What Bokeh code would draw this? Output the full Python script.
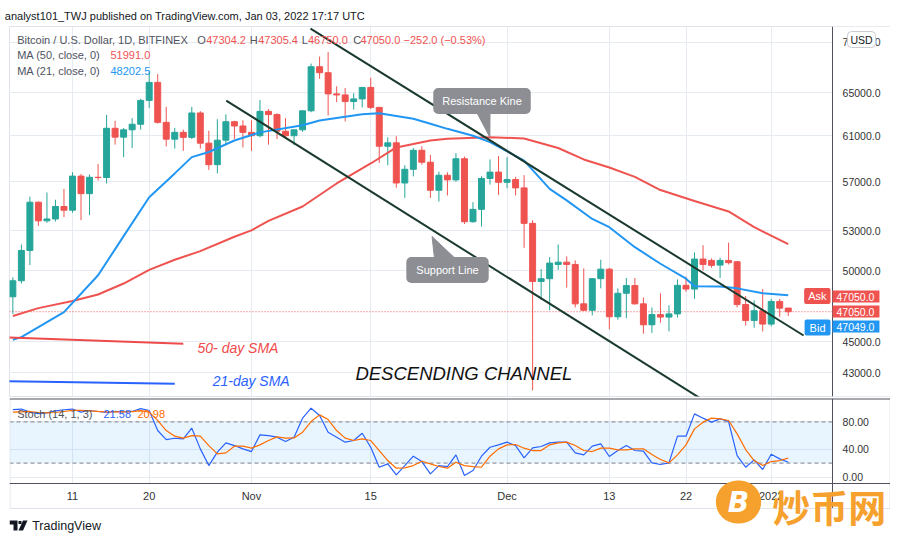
import pandas as pd
from bokeh.plotting import figure
from bokeh.layouts import column
from bokeh.models import (ColumnDataSource, Range1d, FixedTicker, PrintfTickFormatter,
                          Label, Span, BoxAnnotation, PolyAnnotation)
from bokeh.core.properties import value
from bokeh.embed import file_html
from bokeh.resources import INLINE

# ---------------- data ----------------
dates = pd.date_range("2021-10-04", "2022-01-03", freq="D")

opens = [48100, 49250, 51500, 55300, 53800, 53950, 54950, 54650, 57470, 56000,
         57370, 57350, 61670, 60870, 61530, 62040, 64260, 65990, 62210, 60690,
         61300, 60850, 63080, 60330, 58450, 60600, 62270, 61880, 61300, 61000,
         63230, 62930, 61400, 61000, 61530, 63280, 67530, 66940, 64880, 64780,
         64150, 64400, 65500, 63600, 60060, 60360, 56890, 58050, 59700, 58660,
         56280, 57540, 57150, 58960, 53730, 54720, 57270, 57810, 56950, 57180,
         56480, 53600, 49200, 49400, 50450, 50620, 50450, 47600, 47150, 49400,
         50100, 46700, 48350, 48900, 47600, 46150, 46850, 46680, 46900, 48920,
         48650, 50850, 50750, 50400, 50750, 50650, 47550, 46450, 47120, 46200,
         47770, 47304.2]
highs = [49500, 51950, 55750, 55350, 56100, 55500, 56400, 57800, 57650, 57600,
         58500, 62900, 62350, 61700, 62600, 64400, 67050, 66800, 63650, 61700,
         61550, 63650, 63250, 61450, 62500, 62950, 62350, 62400, 62400, 64300,
         63450, 63050, 62600, 61550, 63300, 67850, 68550, 69000, 65600, 65450,
         64950, 65550, 66450, 63650, 60850, 60950, 58400, 59900, 60050, 59300,
         57850, 57800, 59450, 59150, 55300, 57450, 58900, 59200, 59100, 57400,
         57550, 53850, 50100, 51000, 51950, 51050, 50750, 50150, 49450, 50800,
         50200, 48700, 49450, 49450, 48050, 47350, 48350, 47500, 49350, 49550,
         51350, 51900, 50900, 50950, 52100, 50700, 48150, 47850, 48650, 47950,
         47950, 47305.4]
lows = [46900, 49050, 50400, 53400, 53650, 53750, 54100, 54450, 53850, 54250,
        57100, 56850, 60200, 59100, 59900, 61550, 63550, 62100, 60050, 59850,
        59650, 60700, 59850, 58000, 57700, 60200, 60700, 59950, 59650, 60850,
        60200, 60700, 60750, 60150, 61350, 63150, 66350, 62850, 64100, 62300,
        63400, 63600, 63450, 58600, 58400, 56500, 55650, 57450, 58450, 55650,
        55350, 55850, 57000, 53550, 53650, 53350, 56750, 55900, 56450, 55850,
        51700, 41900, 47900, 47150, 50050, 48750, 47350, 47100, 46800, 48700,
        45850, 46500, 46600, 47550, 45550, 45600, 46300, 45700, 46650, 48450,
        47950, 50000, 50200, 49450, 50450, 47350, 46100, 45950, 45700, 46050,
        46700, 46750]
closes = [49250, 51500, 55300, 53800, 53950, 54950, 54650, 57470, 56000, 57370,
          57350, 61670, 60870, 61530, 62040, 64260, 65990, 62210, 60690, 61300,
          60850, 63080, 60330, 58450, 60600, 62270, 61880, 61300, 61000, 63230,
          62930, 61400, 61000, 61530, 63280, 67530, 66940, 64880, 64780, 64150,
          64400, 65500, 63600, 60060, 60360, 56890, 58050, 59700, 58660, 56280,
          57540, 57150, 58960, 53730, 54720, 57270, 57810, 56950, 57180, 56480,
          53600, 49200, 49400, 50550, 50620, 50450, 47600, 47150, 49400, 50100,
          46700, 48350, 48900, 47600, 46150, 46850, 46680, 46900, 48920, 48650,
          50850, 50450, 50380, 50750, 50580, 47550, 46450, 47120, 46200, 47770,
          47300, 47050]

# moving averages read at selected days (index into dates)
ma50_days = [0, 3, 7, 10, 13, 16, 19, 22, 26, 28, 30, 34, 38, 42, 45, 49, 51, 56,
             60, 64, 67, 70, 73, 76, 80, 84, 87, 91]
ma50_values = [46750, 47300, 47800, 48260, 49050, 50050, 50800, 51450, 52550, 53050,
               53800, 54950, 56850, 58550, 59950, 60560, 60720, 60870, 60750, 59900,
               58900, 58200, 57400, 56300, 55400, 54550, 53300, 51991]
ma21_days = [0, 1, 6, 10, 13, 16, 19, 21, 23, 26, 29, 34, 36, 41, 43, 47, 49, 51, 54,
             56, 60, 63, 65, 68, 70, 73, 76, 79, 80, 83, 85, 88, 91]
ma21_values = [45150, 45320, 47020, 49650, 52600, 55700, 57700, 59100, 59550, 60570,
               61300, 61950, 62380, 62950, 63050, 62550, 62080, 61620, 61000, 60420,
               58800, 56400, 55450, 53950, 53300, 51750, 50500, 49400, 48850, 48830,
               48700, 48350, 48202.5]

stoch_k = [97.8, 98.5, 94, 92, 93, 96, 97.5, 98.5, 94, 96.4,
           95, 93.5, 95, 94.5, 95, 99.2, 96.4, 67.4, 54.3, 56.2,
           55.3, 70.8, 40.8, 16.6, 36, 49.5, 45.6, 40.8, 36.9, 61.1,
           60.1, 57.7, 51.4, 57.7, 85.3, 99.7, 89.1, 65, 57.7, 50.5,
           52.9, 63.5, 43.2, 14.2, 19.1, 3.1, 16.6, 30.2, 22.4, 4.6,
           16.6, 15.2, 32.1, 2.2, 9.4, 30.2, 43.2, 46.6, 50.5, 45.6,
           27.8, 42.3, 44.2, 49.5, 50.5, 50.5, 35, 32.1, 44.7, 48.1,
           29.7, 38.4, 45.6, 38.4, 37.4, 20.5, 18.1, 20.5, 59.2, 59.2,
           91.5, 85.3, 79.5, 84.3, 80.4, 31.1, 14.2, 24.9, 10.9, 33.1,
           26.3, 21.5]
stoch_d = [94, 94.5, 95, 93.5, 93, 93.5, 95, 96.5, 96.5, 96,
           95.2, 94.5, 94.5, 94.3, 94.8, 96.2, 94, 82, 67.4, 59.2,
           56.3, 60.1, 59.2, 45.6, 33.6, 35, 44.7, 44.7, 41.8, 46.6,
           52.9, 58.2, 56.3, 56.7, 65, 80.4, 90.1, 83.3, 67.4, 56.3,
           52.9, 55.3, 52.9, 38.4, 23.9, 12.8, 13.3, 16.6, 22.9, 19.1,
           15.2, 12.8, 21.5, 16.6, 15.2, 14.2, 30.2, 40.8, 46.6, 47.1,
           41.8, 38.4, 38.4, 46.6, 49.5, 50.5, 45.6, 38.4, 36.9, 41.8,
           41.8, 39.4, 39.4, 40.8, 40.8, 32.6, 25.3, 20.5, 32.1, 46.6,
           69.8, 79.5, 85.3, 84.3, 81.9, 62.5, 39.8, 23.9, 16.6, 22.4,
           23.9, 27.3]

price_ticks = [43000, 45000, 50000, 53000, 57000, 61000, 65000, 70000]
stoch_ticks = [0, 40, 80]
stoch_bands = [20, 80]
time_tick_dates = ["2021-10-11", "2021-10-20", "2021-11-01", "2021-11-15",
                   "2021-12-01", "2021-12-13", "2021-12-22", "2022-01-01"]
time_tick_labels = ["11", "20", "Nov", "15", "Dec", "13", "22", "2022"]

# drawn annotations (day offset from first date, price)
resistance_days = [34.93, 92.8]
resistance_prices = [71445, 45430]
support_days = [25.04, 80.7]
support_prices = [64245, 41400]
sma50_key_days = [-0.5, 20.0]
sma50_key_prices = [45290, 44875]
sma21_key_days = [-0.5, 19.0]
sma21_key_prices = [42470, 42305]

bid_price = 47049.0
ask_price = 47050.0
last_close = closes[-1]

# ---------------- layout / styling constants ----------------
FONT = "Liberation Sans"
UP = "#26a69a"
DOWN = "#ef5350"
MA50_C = "#ef5350"
MA21_C = "#2196f3"
GRID = "#e6ebf2"
AXIS = "#50535e"
LBL = "#333333"
GRAY_TXT = "#50535e"
TREND = "#1b3a2e"
CALLOUT = "#8c8e93"
BORDER = "#e0e3eb"

X_START, X_END, AXIS_DAY = -0.394, 103.0, 96.2   # visible days; price scale position
STOCH_TOP, STOCH_BOTTOM, STOCH_FRAME_BOTTOM, STOCH_BOX_BOTTOM = 113.8, -9.4, -83.3, -45.6


def day(d):
    return dates[0] + pd.Timedelta(days=d)


def ms(d):
    return day(d).value / 1e6


x_range = Range1d(start=day(X_START), end=day(X_END))
tick_ms = [pd.Timestamp(t).value // 10**6 for t in time_tick_dates]
axis_ms = ms(AXIS_DAY)

# ---------------- price pane ----------------
p = figure(frame_width=881, frame_height=370, x_axis_type="datetime", y_axis_type="log",
           y_axis_location="right", x_range=x_range, y_range=Range1d(41520, 71660),
           output_backend="svg", toolbar_location=None,
           title="analyst101_TWJ published on TradingView.com, Jan 03, 2022 17:17 UTC",
           min_border_left=9, min_border_top=26, min_border_bottom=1, min_border_right=0)
p.title.text_font = FONT
p.title.text_font_size = "11px"
p.title.text_font_style = "normal"
p.title.text_color = "#131722"
p.title.align = "left"
p.title.vertical_align = "middle"
p.title.offset = -4.7
p.title.standoff = 8
p.xaxis.visible = False
p.xgrid.ticker = FixedTicker(ticks=tick_ms)
p.xgrid.grid_line_color = GRID
p.ygrid.grid_line_color = GRID
p.yaxis.fixed_location = axis_ms
p.yaxis.ticker = FixedTicker(ticks=price_ticks)
p.yaxis.formatter = PrintfTickFormatter(format="%.1f")
p.yaxis.major_tick_out = 0
p.yaxis.major_tick_in = 0
p.yaxis.minor_tick_out = 0
p.yaxis.minor_tick_in = 0
p.yaxis.axis_line_color = AXIS
p.yaxis.major_label_standoff = 10
p.yaxis.major_label_text_font = FONT
p.yaxis.major_label_text_font_size = "10.5px"
p.yaxis.major_label_text_color = LBL
p.outline_line_color = BORDER
p.background_fill_color = "white"

p.add_layout(Span(location=last_close, dimension="width", line_color=DOWN,
                  line_dash="1 2", line_width=1, level="underlay"))
# price-scale area (right of the axis) has no grid
p.add_layout(BoxAnnotation(left=axis_ms, fill_color="white", fill_alpha=1,
                           line_color=None, level="underlay"))

colors = [UP if c >= o else DOWN for o, c in zip(opens, closes)]
src = ColumnDataSource(dict(date=dates, open=opens, high=highs, low=lows, close=closes,
                            top=[max(o, c) for o, c in zip(opens, closes)],
                            bottom=[min(o, c) for o, c in zip(opens, closes)],
                            color=colors))
p.segment(x0="date", y0="high", x1="date", y1="low", line_color="color", line_width=1,
          source=src)
p.vbar(x="date", width=0.7 * 86400000, top="top", bottom="bottom", fill_color="color",
       line_color="color", line_width=1, source=src)

p.line([dates[i] for i in ma50_days], ma50_values, line_color=MA50_C, line_width=2)
p.line([dates[i] for i in ma21_days], ma21_values, line_color=MA21_C, line_width=2)

p.line([day(d) for d in resistance_days], resistance_prices, line_color=TREND, line_width=2)
p.line([day(d) for d in support_days], support_prices, line_color=TREND, line_width=2)

p.line([day(d) for d in sma50_key_days], sma50_key_prices, line_color="#ef4a4a", line_width=2)
p.line([day(d) for d in sma21_key_days], sma21_key_prices, line_color="#2962ff", line_width=2)

p.text(x=[day(21.67)], y=[44630], text=["50- day SMA"], text_font=value(FONT),
       text_font_style="italic", text_font_size="14px", text_color="#ef4a4a",
       text_baseline="middle", text_align="left")
p.text(x=[day(23.45)], y=[42510], text=["21-day SMA"], text_font=value(FONT),
       text_font_style="italic", text_font_size="14px", text_color="#2962ff",
       text_baseline="middle", text_align="left")
p.text(x=[day(40.2)], y=[42937], text=["DESCENDING CHANNEL"], text_font=value(FONT),
       text_font_style="italic", text_font_size="18.5px", text_color="#111111",
       text_baseline="middle", text_align="left")

# callouts
p.patch([day(54.4), day(56.0), day(55.98)], [63200, 63200, 60865],
        fill_color=CALLOUT, line_color=CALLOUT)
p.add_layout(Label(x=ms(55.06), y=64200, text="Resistance Kine", text_font=FONT,
                   text_font_size="11px", text_color="white", text_align="center",
                   text_baseline="middle", background_fill_color=CALLOUT,
                   padding=dict(left=9, right=9, top=7, bottom=7), border_radius=5))
p.patch([day(49.2), day(49.5), day(52.07)], [52570, 50800, 50800],
        fill_color=CALLOUT, line_color=CALLOUT)
p.add_layout(Label(x=ms(51.01), y=50037, text="Support Line", text_font=FONT,
                   text_font_size="11px", text_color="white", text_align="center",
                   text_baseline="middle", background_fill_color=CALLOUT,
                   padding=dict(left=10, right=10, top=7, bottom=7), border_radius=5))


def slabel(fig, x, y, text, color, size="11px", **kw):
    fig.add_layout(Label(x=x, y=y, x_units="screen", y_units="screen", text=text,
                         text_color=color, text_font=FONT, text_font_size=size,
                         text_baseline="middle", level="overlay", **kw))


legend_parts = [("Bitcoin / U.S. Dollar, 1D, BITFINEX", 7.7, GRAY_TXT),
                ("O", 187.7, GRAY_TXT), ("47304.2", 196.7, DOWN),
                ("H", 240.3, GRAY_TXT), ("47305.4", 248.7, DOWN),
                ("L", 292.2, GRAY_TXT), ("46750.0", 298.5, DOWN),
                ("C", 343.7, GRAY_TXT), ("47050.0", 351, DOWN),
                ("\u2212252.0 (\u22120.53%)", 394, DOWN)]
for txt, x, c in legend_parts:
    slabel(p, x, 356.7, txt, c)
slabel(p, 7.7, 341.7, "MA (50, close, 0)", GRAY_TXT)
slabel(p, 101, 341.7, "51991.0", MA50_C)
slabel(p, 7.7, 325.3, "MA (21, close, 0)", GRAY_TXT)
slabel(p, 101, 325.3, "48202.5", MA21_C)

# price-scale tags
tag_pad = dict(left=4, right=5, top=2, bottom=2)
slabel(p, 823, 100, "%.1f" % ask_price, "white", size="10.5px", text_align="left",
       background_fill_color=DOWN, padding=tag_pad)
slabel(p, 823, 85, "%.1f" % last_close, "white", size="10.5px", text_align="left",
       background_fill_color=DOWN, padding=tag_pad)
slabel(p, 823, 70, "%.1f" % bid_price, "white", size="10.5px", text_align="left",
       background_fill_color="#2196f3", padding=tag_pad)
slabel(p, 821, 100.5, "Ask", "white", size="11px", text_align="right",
       background_fill_color=DOWN, padding=dict(left=4, right=4, top=2, bottom=2),
       border_radius=2)
slabel(p, 821, 69, "Bid", "white", size="11px", text_align="right",
       background_fill_color="#2196f3", padding=dict(left=5, right=5, top=2, bottom=2),
       border_radius=2)
slabel(p, 852, 357, "USD", "#131722", size="10.5px", text_align="center",
       background_fill_color="white", border_line_color="#c9ccd4",
       padding=dict(left=3, right=3, top=2, bottom=2), border_radius=4)

# ---------------- stochastic pane ----------------
p2 = figure(frame_width=881, frame_height=136, x_axis_type="datetime",
            y_axis_location="right", x_range=x_range,
            y_range=Range1d(STOCH_FRAME_BOTTOM, STOCH_TOP),
            output_backend="svg", toolbar_location=None,
            min_border_left=9, min_border_top=1, min_border_bottom=0, min_border_right=0)
p2.outline_line_color = None
p2.xaxis.fixed_location = STOCH_BOTTOM
p2.yaxis.fixed_location = axis_ms
p2.yaxis.bounds = (STOCH_BOX_BOTTOM, STOCH_TOP)
p2.xaxis.ticker = FixedTicker(ticks=tick_ms)
p2.xaxis.major_label_overrides = {t: l for t, l in zip(tick_ms, time_tick_labels)}
p2.xgrid.ticker = FixedTicker(ticks=tick_ms)
p2.xgrid.grid_line_color = GRID
p2.ygrid.grid_line_color = GRID
for ax in (p2.xaxis, p2.yaxis):
    ax.major_tick_out = 0
    ax.major_tick_in = 0
    ax.minor_tick_out = 0
    ax.minor_tick_in = 0
    ax.axis_line_color = AXIS
    ax.major_label_text_font = FONT
    ax.major_label_text_color = LBL
p2.xaxis.major_label_text_font_size = "11px"
p2.xaxis.major_label_standoff = 6
p2.yaxis.ticker = FixedTicker(ticks=stoch_ticks)
p2.yaxis.formatter = PrintfTickFormatter(format="%.2f")
p2.yaxis.major_label_text_font_size = "10.5px"
p2.yaxis.major_label_standoff = 10

p2.add_layout(BoxAnnotation(bottom=stoch_bands[0], top=stoch_bands[1], fill_color="#2196f3",
                            fill_alpha=0.1, line_color=None, level="underlay"))
for b in stoch_bands:
    p2.add_layout(Span(location=b, dimension="width", line_color="#9598a1",
                       line_dash="4 3", line_width=1.3, level="underlay"))
# no grid/bands on the price scale or below the time axis
p2.add_layout(BoxAnnotation(left=axis_ms, fill_color="white", fill_alpha=1,
                            line_color=None, level="underlay"))
p2.add_layout(BoxAnnotation(top=STOCH_BOTTOM, fill_color="white", fill_alpha=1,
                            line_color=None, level="underlay"))
p2.add_layout(Span(location=STOCH_TOP, dimension="width", line_color=AXIS, line_width=2))
p2.add_layout(Span(location=STOCH_BOX_BOTTOM, dimension="width", line_color=BORDER,
                   line_width=1))
# outer light border of the chart box
p2.segment(x0=[day(X_START + 0.06), day(X_END - 0.06)], y0=[STOCH_TOP, STOCH_TOP],
           x1=[day(X_START + 0.06), day(X_END - 0.06)],
           y1=[STOCH_BOX_BOTTOM, STOCH_BOX_BOTTOM], line_color=BORDER, line_width=1)

p2.line(dates, stoch_k, line_color="#2962ff", line_width=1.2)
p2.line(dates, stoch_d, line_color="#ff6d00", line_width=1.2)

slabel(p2, 7.7, 120.7, "Stoch (14, 1, 3)", GRAY_TXT)
slabel(p2, 94, 120.7, "21.58", "#2962ff")
slabel(p2, 128, 120.7, "20.98", "#ff6d00")

# TradingView logo
for xs, ys in [([0, 8, 8, 4, 4, 0], [14, 14, 4, 4, 10, 10]),
               ([9, 12, 12, 9], [13.5, 13.5, 10.5, 10.5]),
               ([13.5, 18, 13.5, 9], [14, 14, 4, 4])]:
    p2.add_layout(PolyAnnotation(xs=xs, ys=ys, xs_units="screen", ys_units="screen",
                                 fill_color="#131722", fill_alpha=1, line_color=None,
                                 level="overlay"))
slabel(p2, 22.7, 9, "TradingView", "#131722", size="12.5px")

# watermark
p2.add_layout(Label(x=729, y=32.5, x_units="screen", y_units="screen", text="B",
                    text_font="DejaVu Sans", text_font_style="bold italic",
                    text_font_size="28px", text_color="white", text_align="center",
                    text_baseline="middle", background_fill_color="#f6a02d",
                    padding=dict(left=12, right=12, top=5, bottom=5), border_radius=22,
                    level="overlay"))
p2.add_layout(Label(x=762.7, y=29, x_units="screen", y_units="screen", text="炒币网",
                    text_font="Noto Sans CJK SC", text_font_style="bold",
                    text_font_size="38px", text_color="#f6a02d", text_align="left",
                    text_baseline="middle", level="overlay"))

layout = column(p, p2, spacing=0)
open("out.html", "w").write(file_html(layout, INLINE))
